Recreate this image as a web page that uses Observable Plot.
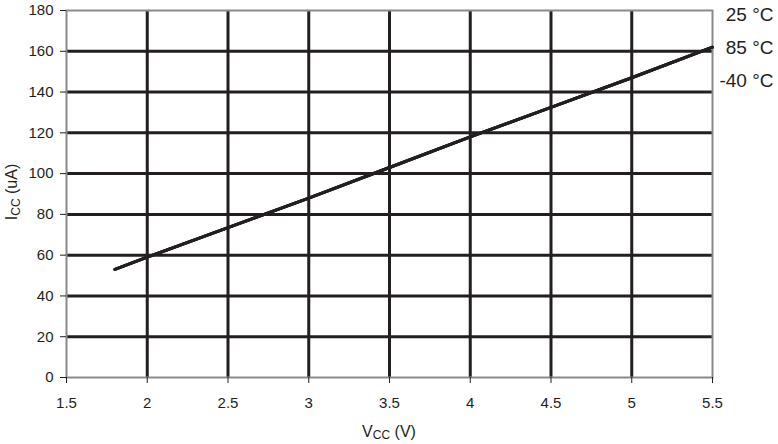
<!DOCTYPE html>
<html>
<head>
<meta charset="utf-8">
<script src="https://cdn.jsdelivr.net/npm/d3@7"></script>
<script src="https://cdn.jsdelivr.net/npm/@observablehq/plot@0.6"></script>
<style>
  html, body { margin: 0; padding: 0; background: #fff; }
  #chart svg { display: block; }
</style>
</head>
<body>
<div id="chart"></div>
<script>
const vcc = [1.8, 2, 2.5, 3, 3.5, 4, 4.5, 5, 5.5];
const icc25 = [53, 59, 73.5, 88, 103, 118, 132.5, 147, 162];
const icc85 = [53, 59, 73.5, 88, 103, 118, 132.5, 147, 162];
const iccM40 = [53, 59, 73.5, 88, 103, 118, 132.5, 147, 162];
const temps = ["25 °C", "85 °C", "-40 °C"];
const xTicks = [1.5, 2, 2.5, 3, 3.5, 4, 4.5, 5, 5.5];
const yTicks = [0, 20, 40, 60, 80, 100, 120, 140, 160, 180];

const series = [icc25, icc85, iccM40];
const data = series.flatMap((s, k) => s.map((v, i) => ({x: vcc[i], y: v, t: temps[k]})));

const ink = "#231f20";
const chart = Plot.plot({
  width: 778,
  height: 444,
  marginLeft: 66,
  marginRight: 66,
  marginTop: 10,
  marginBottom: 67,
  style: {fontFamily: "Liberation Sans, Arial, sans-serif", fontSize: "15px", color: ink, background: "#fff"},
  x: {domain: [1.5, 5.5], ticks: xTicks, tickFormat: d => String(d), label: null},
  y: {domain: [0, 180], ticks: yTicks, tickFormat: d => String(d), label: null},
  marks: [
    Plot.ruleX(xTicks.slice(1, -1), {stroke: ink, strokeWidth: 3}),
    Plot.ruleY(yTicks.slice(1, -1), {stroke: ink, strokeWidth: 3}),
    Plot.frame({stroke: "#8a8a8a", strokeWidth: 2}),
    Plot.axisX({ticks: xTicks, tickSize: 6, tickPadding: 14, tickFormat: d => String(d), stroke: ink, fill: ink, fontSize: 15}),
    Plot.axisY({ticks: yTicks, tickSize: 6, tickPadding: 7, tickFormat: d => String(d), stroke: ink, fill: ink, fontSize: 15}),
    Plot.line(data, {x: "x", y: "y", z: "t", stroke: ink, strokeWidth: 3}),
    ...temps.map((t, i) => Plot.text([t], {frameAnchor: "top-right", text: d => d, dx: 61, dy: 4 + i * 33, fontSize: 19, fill: ink, textAnchor: "end", lineAnchor: "middle", clip: false}))
  ]
});

const svg = d3.select(chart);
// y axis title with subscript
const yt = svg.append("text")
  .attr("transform", "translate(17,192) rotate(-90)")
  .attr("text-anchor", "middle")
  .attr("fill", ink)
  .attr("font-size", 16)
  .attr("font-family", "Liberation Sans, Arial, sans-serif");
yt.append("tspan").text("I");
yt.append("tspan").attr("font-size", 12).attr("dy", 3).text("CC");
yt.append("tspan").attr("dy", -3).text(" (uA)");

const xt = svg.append("text")
  .attr("x", 389).attr("y", 437)
  .attr("text-anchor", "middle")
  .attr("fill", ink)
  .attr("font-size", 16)
  .attr("font-family", "Liberation Sans, Arial, sans-serif");
xt.append("tspan").text("V");
xt.append("tspan").attr("font-size", 12).attr("dy", 2).text("CC");
xt.append("tspan").attr("dy", -2).text(" (V)");

document.getElementById("chart").appendChild(chart);
</script>
</body>
</html>
